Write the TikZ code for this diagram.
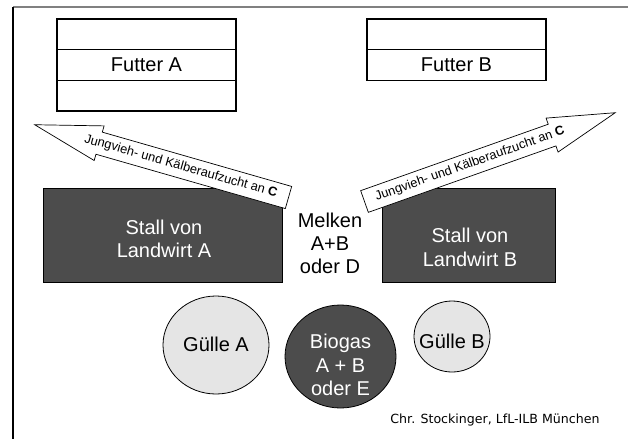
\documentclass[tikz,border=0pt]{standalone}
\usepackage{fontspec}
\setmainfont{Liberation Sans}
\newfontfamily\creditfont{DejaVu Sans}
\usetikzlibrary{positioning,shapes.geometric}

\definecolor{dunkel}{gray}{0.3}
\definecolor{hell}{gray}{0.9}
\definecolor{rahmen}{gray}{0.5}

\tikzset{
  feld/.style={draw, line width=1.5pt, outer sep=0pt, inner sep=0pt,
    minimum width=179pt, minimum height=30.7pt,
    font=\fontsize{20}{23}\selectfont},
  stall/.style={draw, fill=dunkel, line width=0.8pt, outer sep=0pt},
  weiss/.style={text=white, align=center, font=\fontsize{20}{23.5}\selectfont},
  guelle/.style={ellipse, draw, fill=hell, line width=0.8pt, inner sep=0pt},
  pfeil/.style={draw, fill=white, line width=0.7pt, line join=miter},
  pfeiltext/.style={font=\fontsize{12.8}{14}\selectfont, inner sep=0pt},
}

\begin{document}
\begin{tikzpicture}[x=1pt, y=-1pt]

    \useasboundingbox (0,0) rectangle (628,439);

    % Rahmen
    \coordinate (ecke) at (13,7);
    \draw[rahmen, line width=2pt] (ecke) -- (628,7);
    \draw[line width=1.2pt] (ecke) -- (13,439);

    % Futter
    \node[feld] (futterA) at (146.5,65) {Futter A};
    \node[feld, above=0pt of futterA] (futterAoben) {};
    \node[feld, below=0pt of futterA] (futterAunten) {};

    \node[feld] (futterB) at (456.5,65) {Futter B};
    \node[feld, above=0pt of futterB] (futterBoben) {};

    % Ställe
    \node[stall, minimum width=239pt, minimum height=94pt] (stallA) at (162.5,235) {};
    \node[stall, minimum width=173pt, minimum height=94pt] (stallB) at (468.5,235) {};

    % Pfeil nach links
    \begin{scope}[shift={(288.5,197.5)}, rotate=164]
        \draw[pfeil] (0,-11.5) -- (197,-11.5) -- (197,-18) -- (264,0)
            -- (197,18) -- (197,11.5) -- (0,11.5) -- cycle;
        \node[pfeiltext, rotate=-16] (pfeilAtext) at (112,0)
            {Jungvieh- und Kälberaufzucht an \textbf{C}};
    \end{scope}

    % Pfeil nach rechts
    \begin{scope}[shift={(364.5,201.5)}, rotate=19.5]
        \draw[pfeil] (0,-11.5) -- (199,-11.5) -- (199,-18) -- (266,0)
            -- (199,18) -- (199,11.5) -- (0,11.5) -- cycle;
        \node[pfeiltext, rotate=19.5] (pfeilBtext) at (112,0)
            {Jungvieh- und Kälberaufzucht an \textbf{C}};
    \end{scope}

    \node[weiss] (stallAtext) at (164,239) {Stall von\\Landwirt A};
    \node[weiss] (stallBtext) at (470,247.5) {Stall von\\Landwirt B};

    \node[align=center, font=\fontsize{20}{23}\selectfont] (melken) at (330,243)
        {Melken\\A+B\\oder D};

    % Gülle und Biogas
    \node[guelle, minimum width=106pt, minimum height=98pt] (guelleA) at (216,345) {};
    \node[font=\fontsize{20}{23}\selectfont] (guelleAtext) at (216,344) {Gülle A};

    \node[guelle, fill=dunkel, minimum width=111pt, minimum height=103pt] (biogas) at (340.5,356.5) {};
    \node[weiss] (biogastext) at (340.5,365) {Biogas\\A + B\\oder E};

    \node[guelle, minimum width=76pt, minimum height=71pt] (guelleB) at (452,336.5) {};
    \node[font=\fontsize{20}{23}\selectfont] (guelleBtext) at (452,341) {Gülle B};

    \node[font=\creditfont\fontsize{12.6}{14}\selectfont] (credit) at (495,420)
        {Chr. Stockinger, LfL-ILB München};

\end{tikzpicture}
\end{document}
